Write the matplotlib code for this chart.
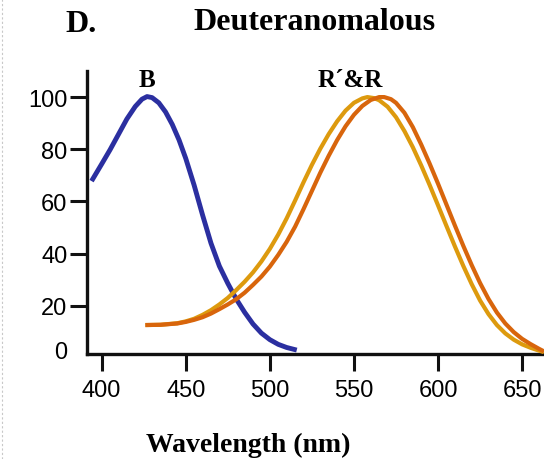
import matplotlib
matplotlib.use("Agg")
import matplotlib.pyplot as plt
from matplotlib.lines import Line2D

# wavelength (nm) and relative sensitivity
blue_nm = [394, 400, 405, 410, 415, 420, 424, 427, 430, 434, 438, 442, 446, 450, 455,
           460, 465, 470, 475, 480, 485, 490, 495, 500, 505, 510, 516]
blue_val = [67.8, 74.3, 79.8, 85.7, 91.6, 96.4, 99.2, 100.2, 99.8, 97.8, 94.3, 89.5, 83.6, 76.5, 66.2,
            54.8, 44.0, 35.2, 28.6, 22.6, 17.5, 13.0, 9.5, 7.0, 5.2, 4.0, 3.0]

gold_nm = [426, 435, 445, 450, 455, 460, 465, 470, 475, 480, 485, 490, 495, 500, 505, 510,
           515, 520, 525, 530, 535, 540, 545, 550, 555, 558, 562, 565, 570, 575, 580, 585,
           590, 595, 600, 605, 610, 615, 620, 625, 630, 635, 640, 645, 650, 655, 660, 663]
gold_val = [12.6, 12.7, 13.3, 14.0, 15.0, 16.5, 18.3, 20.5, 23.0, 26.0, 29.2, 32.8, 37.0, 41.8, 47.3, 53.5,
            60.3, 67.3, 74.0, 80.2, 85.8, 90.7, 94.8, 97.8, 99.5, 100, 99.6, 98.8, 96.3, 92.3, 87.0, 80.8,
            73.8, 66.3, 58.5, 50.6, 42.8, 35.3, 28.3, 22.0, 16.8, 12.6, 9.4, 7.0, 5.2, 3.9, 2.8, 2.2]

orange_nm = [426, 435, 445, 450, 455, 460, 465, 470, 475, 480, 485, 490, 495, 500, 505, 510,
             515, 520, 525, 530, 535, 540, 545, 550, 555, 560, 565, 568, 572, 575, 580, 585,
             590, 595, 600, 605, 610, 615, 620, 625, 630, 635, 640, 645, 650, 655, 660, 663]
orange_val = [12.6, 12.7, 13.2, 13.8, 14.6, 15.6, 17.0, 18.7, 20.5, 22.5, 25.0, 28.0, 31.2, 35.0, 39.5, 44.5,
              50.3, 57.0, 64.0, 71.0, 77.5, 83.5, 88.8, 93.2, 96.6, 98.9, 100, 100, 99.2, 97.8, 94.0, 88.5,
              81.8, 74.5, 66.8, 58.8, 50.8, 43.0, 35.6, 28.7, 22.6, 17.4, 13.2, 9.9, 7.3, 5.3, 3.5, 2.5]

ytick_pos = [3.4, 20, 40, 60, 80, 100]
ytick_lab = ["0", "20", "40", "60", "80", "100"]
xtick_pos = [400, 450, 500, 550, 600, 650]

serif = ["Liberation Serif", "DejaVu Serif"]
sans = ["Liberation Sans", "DejaVu Sans"]

fig = plt.figure(figsize=(5.44, 4.6), dpi=100)
ax = fig.add_axes([87 / 544, 1 - 355 / 460, 1 - 87 / 544, 283 / 460])

ax.plot(blue_nm, blue_val, color="#2b2fa0", lw=3.5, solid_capstyle="butt",
        solid_joinstyle="round", zorder=3)
ax.plot(gold_nm, gold_val, color="#dd9a0e", lw=3.0, solid_capstyle="butt",
        solid_joinstyle="round", zorder=3)
ax.plot(orange_nm, orange_val, color="#d8650c", lw=3.0, solid_capstyle="butt",
        solid_joinstyle="round", zorder=4)

ax.set_xlim(391.3, 663)
ax.set_ylim(1.5, 110)
for s in ["top", "right"]:
    ax.spines[s].set_visible(False)
for s in ["left", "bottom"]:
    ax.spines[s].set_linewidth(2.4)
    ax.spines[s].set_color("#111111")

ax.set_xticks(xtick_pos)
ax.set_xticklabels([str(v) for v in xtick_pos], family=sans, fontsize=17)
ax.set_yticks(ytick_pos)
ax.set_yticklabels(ytick_lab, family=sans, fontsize=17)
ax.tick_params(axis="x", length=12, width=2.2, color="#111111", pad=6)
ax.tick_params(axis="y", length=12, width=2.2, color="#111111", pad=2)
ax.yaxis.get_major_ticks()[0].tick1line.set_visible(False)

ax.text(427, 106.9, "B", family=serif, weight="bold", fontsize=18, ha="center", va="center")
ax.text(547.6, 106.9, "R\u00b4&R", family=serif, weight="bold", fontsize=18, ha="center", va="center")

fig.text(81 / 544, 1 - 24 / 460, "D.", family=serif, weight="bold", fontsize=23, ha="center", va="center")
fig.text(314 / 544, 1 - 22 / 460, "Deuteranomalous", family=serif, weight="bold", fontsize=23,
         ha="center", va="center")
fig.text(248 / 544, 1 - 445 / 460, "Wavelength (nm)", family=serif, weight="bold", fontsize=20,
         ha="center", va="center")

# faint dotted border on the left edge of the original screenshot
fig.add_artist(Line2D([2 / 544, 2 / 544], [0, 1], transform=fig.transFigure,
                      color="#c8c8c8", lw=0.8, ls=(0, (2, 2))))

fig.savefig("out.png", dpi=100)
